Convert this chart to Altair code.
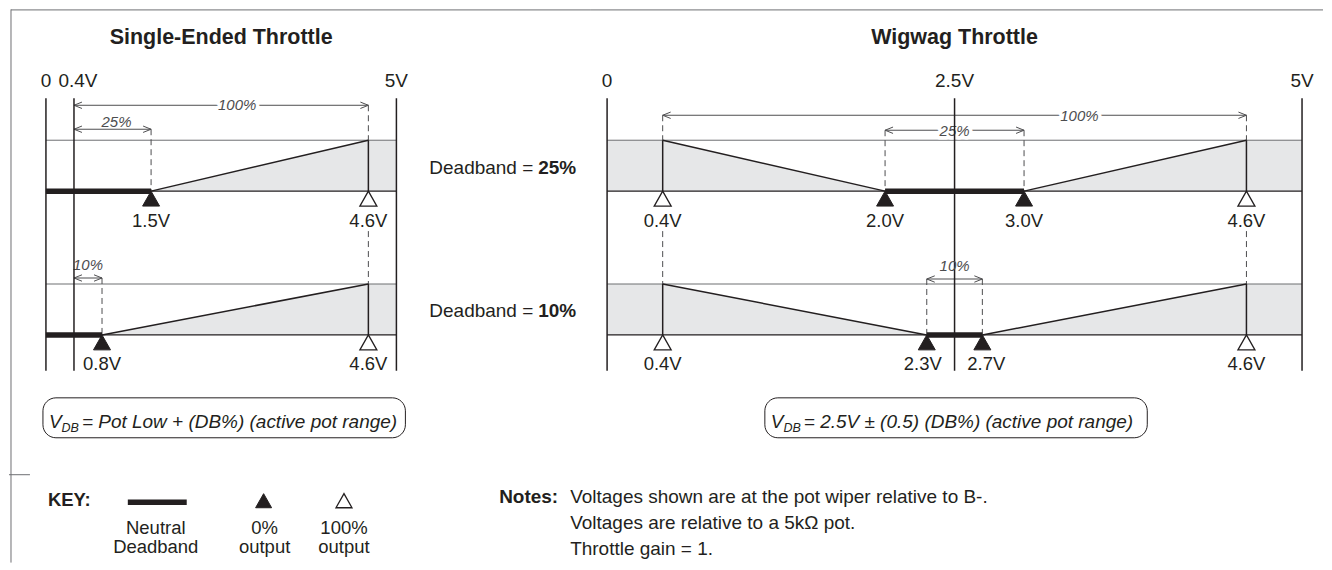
import altair as alt
import pandas as pd

# ------------------------------------------------------------------ data
SE_TICK_V = [0.0, 0.4, 5.0]
SE_TICK_TEXT = ["0", "0.4V", "5V"]
WW_TICK_V = [0.0, 2.5, 5.0]
WW_TICK_TEXT = ["0", "2.5V", "5V"]

RAIL_V = [0.0, 5.0]
POT_LOW_V = 0.4
POT_HIGH_V = 4.6
POT_LOW_TEXT = "0.4V"
POT_HIGH_TEXT = "4.6V"

DEADBAND_TEXT = ["25%", "10%"]
FULL_RANGE_TEXT = "100%"

SE_ZERO_V = [1.5, 0.8]
SE_ZERO_TEXT = ["1.5V", "0.8V"]

WW_ZERO_LO_V = [2.0, 2.3]
WW_ZERO_HI_V = [3.0, 2.7]
WW_ZERO_LO_TEXT = ["2.0V", "2.3V"]
WW_ZERO_HI_TEXT = ["3.0V", "2.7V"]

TITLES = ["Single-Ended Throttle", "Wigwag Throttle"]
FORMULA_TAIL = ["= Pot Low + (DB%) (active pot range)",
                "= 2.5V \u00b1 (0.5) (DB%) (active pot range)"]
KEY_HEAD = "KEY:"
KEY_LABELS = [["Neutral", "Deadband"], ["0%", "output"], ["100%", "output"]]
NOTES_HEAD = "Notes:"
NOTES = ["Voltages shown are at the pot wiper relative to B-.",
         "Voltages are relative to a 5k\u03a9 pot.",
         "Throttle gain = 1."]

# ------------------------------------------------------------------ layout / style
FONT = "Liberation Sans, Arial, Helvetica, sans-serif"
INK = "#231f20"
GREY_LINE = "#6d6e71"
DIM = "#4d4d4f"
FILL = "#e6e7e8"

H = 554
W_LEFT, W_RIGHT = 582, 734
PX_PER_V = [70.2, 139.2]
ZERO_PX = [37, 17]
DOMAINS = [[-ZERO_PX[0] / PX_PER_V[0], (W_LEFT - ZERO_PX[0]) / PX_PER_V[0]],
           [-ZERO_PX[1] / PX_PER_V[1], (W_RIGHT - ZERO_PX[1]) / PX_PER_V[1]]]

TITLE_Y = 29
TICK_LABEL_Y = 71.5
RAIL_TOP, RAIL_BOT = 89, 362
BAND_TOP = [131, 275]
BAND_BOT = [182, 326]
VALUE_ROW = [212, 355]
GAP_DASH_TOP = 222
SE_FULL_Y = 96
SE_DB_Y = [120, 269]
WW_FULL_Y = 106
WW_DB_Y = [121, 270]

TRI = "M0,0L-1,1.76L1,1.76Z"
HEAD_L = "M1,-0.4L0,0L1,0.4"
HEAD_R = "M-1,-0.4L0,0L-1,0.4"

YS = alt.Scale(domain=[0, H], reverse=True, nice=False, zero=False)
ONE = pd.DataFrame({"k": [0]})


def xscale(i):
    return alt.Scale(domain=DOMAINS[i], nice=False, zero=False)


def enc_xy(xs):
    return dict(x=alt.X("x:Q", scale=xs, axis=None),
                y=alt.Y("y:Q", scale=YS, axis=None))


def seg_layer(rows, xs, color, width, dash=None):
    df = pd.DataFrame(rows, columns=["x", "x2", "y", "y2"])
    props = dict(color=color, strokeWidth=width, strokeCap="butt")
    if dash is not None:
        props["strokeDash"] = dash
    return alt.Chart(df).mark_rule(**props).encode(**enc_xy(xs), x2="x2:Q", y2="y2:Q")


def text_layer(rows, xs, **props):
    df = pd.DataFrame(rows, columns=["x", "y", "t"])
    base = dict(font=FONT, fontSize=18.5, color=INK, align="center", baseline="middle")
    base.update(props)
    return alt.Chart(df).mark_text(**base).encode(**enc_xy(xs), text="t:N")


def point_layer(rows, xs, shape, size, **props):
    df = pd.DataFrame(rows, columns=["x", "y"])
    return alt.Chart(df).mark_point(shape=shape, size=size, opacity=1, **props).encode(**enc_xy(xs))


def fixed_text(x, y, t, **props):
    base = dict(font=FONT, fontSize=19, color=INK, align="left", baseline="middle", text=t)
    base.update(props)
    return alt.Chart(ONE).mark_text(**base).encode(x=alt.value(x), y=alt.value(y))


def fixed_rule(x, x2, y, y2, color=INK, width=1.0):
    return alt.Chart(ONE).mark_rule(color=color, strokeWidth=width, strokeCap="butt").encode(
        x=alt.value(x), x2=alt.value(x2), y=alt.value(y), y2=alt.value(y2))


def fixed_point(x, y, shape, size, **props):
    return alt.Chart(ONE).mark_point(shape=shape, size=size, opacity=1, **props).encode(
        x=alt.value(x), y=alt.value(y))


def formula(x0, x1, tail):
    box = alt.Chart(ONE).mark_rect(fill="white", stroke=INK, strokeWidth=1, cornerRadius=13).encode(
        x=alt.value(x0), x2=alt.value(x1), y=alt.value(389), y2=alt.value(429))
    v = fixed_text(x0 + 6, 419, "V", fontStyle="italic", baseline="alphabetic")
    sub = fixed_text(x0 + 18.7, 423, "DB", fontStyle="italic", fontSize=12.5, baseline="alphabetic")
    rest = fixed_text(x0 + 39, 419, tail, fontStyle="italic", baseline="alphabetic")
    return [box, v, sub, rest]


def dim_labels(rows, xs, halo, dx=0):
    out = []
    props = dict(fontSize=15, fontStyle="italic", dx=dx)
    if halo:
        out.append(text_layer(rows, xs, color="white", stroke="white", strokeWidth=7,
                              strokeJoin="round", **props))
    out.append(text_layer(rows, xs, color=DIM, **props))
    return out


# ------------------------------------------------------------------ single-ended panel
def single_ended():
    xs = xscale(0)
    L = []
    arows = []
    for i, z in enumerate(SE_ZERO_V):
        for xv, yv in [(z, BAND_BOT[i]), (POT_HIGH_V, BAND_TOP[i]), (RAIL_V[1], BAND_TOP[i])]:
            arows.append((i, xv, yv, BAND_BOT[i]))
    adf = pd.DataFrame(arows, columns=["band", "x", "y", "y2"])
    L.append(alt.Chart(adf).mark_area(color=FILL, opacity=1).encode(
        **enc_xy(xs), y2="y2:Q", detail="band:N"))
    L.append(seg_layer([(RAIL_V[0], RAIL_V[1], BAND_TOP[i], BAND_TOP[i]) for i in range(2)], xs, GREY_LINE, 1))
    L.append(seg_layer([(RAIL_V[0], RAIL_V[1], BAND_BOT[i], BAND_BOT[i]) for i in range(2)], xs, INK, 1.2))

    dashes = [(z, z, SE_DB_Y[i], BAND_BOT[i]) for i, z in enumerate(SE_ZERO_V)]
    dashes += [(POT_HIGH_V, POT_HIGH_V, SE_FULL_Y, BAND_TOP[0]),
               (POT_HIGH_V, POT_HIGH_V, GAP_DASH_TOP, BAND_TOP[1])]
    L.append(seg_layer(dashes, xs, DIM, 1, dash=[6, 4]))

    arrows = [(POT_LOW_V, POT_HIGH_V, SE_FULL_Y)] + \
             [(POT_LOW_V, z, SE_DB_Y[i]) for i, z in enumerate(SE_ZERO_V)]
    L.append(seg_layer([(a, b, y, y) for a, b, y in arrows], xs, DIM, 1))
    L.append(point_layer([(a, y) for a, b, y in arrows], xs, HEAD_L, 256, filled=False, color=DIM, strokeWidth=1))
    L.append(point_layer([(b, y) for a, b, y in arrows], xs, HEAD_R, 256, filled=False, color=DIM, strokeWidth=1))

    mid = (POT_LOW_V + POT_HIGH_V) / 2
    L += dim_labels([(mid, SE_FULL_Y, FULL_RANGE_TEXT)], xs, True, dx=16)
    L += dim_labels([((POT_LOW_V + SE_ZERO_V[0]) / 2, SE_DB_Y[0] - 7, DEADBAND_TEXT[0])], xs, False, dx=4)
    L += dim_labels([((POT_LOW_V + SE_ZERO_V[1]) / 2, SE_DB_Y[1] - 13, DEADBAND_TEXT[1])], xs, False)

    rails = [(v, v, RAIL_TOP, RAIL_BOT) for v in SE_TICK_V]
    edges = [(POT_HIGH_V, POT_HIGH_V, BAND_TOP[i], BAND_BOT[i]) for i in range(2)]
    slants = [(z, POT_HIGH_V, BAND_BOT[i], BAND_TOP[i]) for i, z in enumerate(SE_ZERO_V)]
    L.append(seg_layer(rails + edges + slants, xs, INK, 1.5))
    L.append(seg_layer([(RAIL_V[0], z, BAND_BOT[i], BAND_BOT[i]) for i, z in enumerate(SE_ZERO_V)], xs, INK, 5.5))

    L.append(point_layer([(z, BAND_BOT[i]) for i, z in enumerate(SE_ZERO_V)], xs, TRI, 289,
                         filled=True, fill=INK, stroke=INK, strokeWidth=1))
    L.append(point_layer([(POT_HIGH_V, BAND_BOT[i]) for i in range(2)], xs, TRI, 289,
                         filled=True, fill="white", stroke=INK, strokeWidth=1.3))

    vals = [(z, VALUE_ROW[i], SE_ZERO_TEXT[i]) for i, z in enumerate(SE_ZERO_V)]
    vals += [(POT_HIGH_V, VALUE_ROW[i], POT_HIGH_TEXT) for i in range(2)]
    L.append(text_layer(vals, xs))

    L.append(text_layer([(SE_TICK_V[0], TICK_LABEL_Y, SE_TICK_TEXT[0]),
                         (SE_TICK_V[2], TICK_LABEL_Y, SE_TICK_TEXT[2])], xs, fontSize=19))
    L.append(text_layer([(SE_TICK_V[1], TICK_LABEL_Y, SE_TICK_TEXT[1])], xs, fontSize=19, dx=4))
    L.append(text_layer([((RAIL_V[0] + RAIL_V[1]) / 2, TITLE_Y, TITLES[0])], xs,
                        fontSize=21.5, fontWeight="bold"))

    # deadband captions (between panels)
    for i, yv in enumerate([159, 302]):
        L.append(fixed_text(421, yv, "Deadband = "))
        L.append(fixed_text(530, yv, DEADBAND_TEXT[i], fontWeight="bold"))

    L += formula(34, 397, FORMULA_TAIL[0])

    # key
    L.append(fixed_text(39, 491, KEY_HEAD, fontWeight="bold", fontSize=18.5))
    L.append(fixed_rule(119, 178, 493.5, 493.5, width=5.5))
    L.append(fixed_point(255, 485, TRI, 256, filled=True, fill=INK, stroke=INK, strokeWidth=1))
    L.append(fixed_point(335.5, 485, TRI, 256, filled=True, fill="white", stroke=INK, strokeWidth=1.3))
    for cx, (a, b) in zip([147, 256, 335.5], KEY_LABELS):
        L.append(fixed_text(cx, 519.5, a, align="center", fontSize=18.5))
        L.append(fixed_text(cx, 538.5, b, align="center", fontSize=18.5))

    # notes
    L.append(fixed_text(550, 488, NOTES_HEAD, fontWeight="bold", align="right"))
    for j, line in enumerate(NOTES):
        L.append(fixed_text(562, 488 + 26 * j, line))

    # frame
    L.append(fixed_rule(2, W_LEFT, 0.5, 0.5, color=GREY_LINE, width=1))
    L.append(fixed_rule(2, 2, 0, H, color=GREY_LINE, width=1))
    L.append(fixed_rule(0, 21, 466, 466, color=GREY_LINE, width=1))

    return alt.layer(*L).properties(width=W_LEFT, height=H)


# ------------------------------------------------------------------ wigwag panel
def wigwag():
    xs = xscale(1)
    L = []
    arows = []
    for i in range(2):
        lo, hi = WW_ZERO_LO_V[i], WW_ZERO_HI_V[i]
        for xv, yv in [(RAIL_V[0], BAND_TOP[i]), (POT_LOW_V, BAND_TOP[i]), (lo, BAND_BOT[i]),
                       (hi, BAND_BOT[i]), (POT_HIGH_V, BAND_TOP[i]), (RAIL_V[1], BAND_TOP[i])]:
            arows.append((i, xv, yv, BAND_BOT[i]))
    adf = pd.DataFrame(arows, columns=["band", "x", "y", "y2"])
    L.append(alt.Chart(adf).mark_area(color=FILL, opacity=1).encode(
        **enc_xy(xs), y2="y2:Q", detail="band:N"))
    L.append(seg_layer([(RAIL_V[0], RAIL_V[1], BAND_TOP[i], BAND_TOP[i]) for i in range(2)], xs, GREY_LINE, 1))
    L.append(seg_layer([(RAIL_V[0], RAIL_V[1], BAND_BOT[i], BAND_BOT[i]) for i in range(2)], xs, INK, 1.2))

    dashes = []
    for i in range(2):
        dashes += [(WW_ZERO_LO_V[i], WW_ZERO_LO_V[i], WW_DB_Y[i], BAND_BOT[i]),
                   (WW_ZERO_HI_V[i], WW_ZERO_HI_V[i], WW_DB_Y[i], BAND_BOT[i])]
    for v in [POT_LOW_V, POT_HIGH_V]:
        dashes += [(v, v, WW_FULL_Y, BAND_TOP[0]), (v, v, GAP_DASH_TOP, BAND_TOP[1])]
    L.append(seg_layer(dashes, xs, DIM, 1, dash=[6, 4]))

    arrows = [(POT_LOW_V, POT_HIGH_V, WW_FULL_Y)] + \
             [(WW_ZERO_LO_V[i], WW_ZERO_HI_V[i], WW_DB_Y[i]) for i in range(2)]
    L.append(seg_layer([(a, b, y, y) for a, b, y in arrows], xs, DIM, 1))
    L.append(point_layer([(a, y) for a, b, y in arrows], xs, HEAD_L, 256, filled=False, color=DIM, strokeWidth=1))
    L.append(point_layer([(b, y) for a, b, y in arrows], xs, HEAD_R, 256, filled=False, color=DIM, strokeWidth=1))

    mid = (POT_LOW_V + POT_HIGH_V) / 2
    L += dim_labels([(mid, WW_FULL_Y + 1, FULL_RANGE_TEXT)], xs, True, dx=125)
    L += dim_labels([((WW_ZERO_LO_V[0] + WW_ZERO_HI_V[0]) / 2, WW_DB_Y[0] + 1, DEADBAND_TEXT[0])], xs, True)

    rails = [(v, v, RAIL_TOP, RAIL_BOT) for v in WW_TICK_V]
    edges = [(v, v, BAND_TOP[i], BAND_BOT[i]) for v in [POT_LOW_V, POT_HIGH_V] for i in range(2)]
    slants = []
    for i in range(2):
        slants += [(POT_LOW_V, WW_ZERO_LO_V[i], BAND_TOP[i], BAND_BOT[i]),
                   (WW_ZERO_HI_V[i], POT_HIGH_V, BAND_BOT[i], BAND_TOP[i])]
    L.append(seg_layer(rails + edges + slants, xs, INK, 1.5))
    L += dim_labels([((WW_ZERO_LO_V[1] + WW_ZERO_HI_V[1]) / 2, WW_DB_Y[1] - 13, DEADBAND_TEXT[1])], xs, False)
    L.append(seg_layer([(WW_ZERO_LO_V[i], WW_ZERO_HI_V[i], BAND_BOT[i], BAND_BOT[i]) for i in range(2)],
                       xs, INK, 5.5))

    L.append(point_layer([(v[i], BAND_BOT[i]) for v in [WW_ZERO_LO_V, WW_ZERO_HI_V] for i in range(2)],
                         xs, TRI, 289, filled=True, fill=INK, stroke=INK, strokeWidth=1))
    L.append(point_layer([(v, BAND_BOT[i]) for v in [POT_LOW_V, POT_HIGH_V] for i in range(2)],
                         xs, TRI, 289, filled=True, fill="white", stroke=INK, strokeWidth=1.3))

    vals = [(POT_LOW_V, VALUE_ROW[i], POT_LOW_TEXT) for i in range(2)]
    vals += [(POT_HIGH_V, VALUE_ROW[i], POT_HIGH_TEXT) for i in range(2)]
    vals += [(WW_ZERO_LO_V[0], VALUE_ROW[0], WW_ZERO_LO_TEXT[0]),
             (WW_ZERO_HI_V[0], VALUE_ROW[0], WW_ZERO_HI_TEXT[0])]
    L.append(text_layer(vals, xs))
    L.append(text_layer([(WW_ZERO_LO_V[1], VALUE_ROW[1], WW_ZERO_LO_TEXT[1])], xs, dx=-4))
    L.append(text_layer([(WW_ZERO_HI_V[1], VALUE_ROW[1], WW_ZERO_HI_TEXT[1])], xs, dx=4))

    L.append(text_layer([(v, TICK_LABEL_Y, t) for v, t in zip(WW_TICK_V, WW_TICK_TEXT)], xs, fontSize=19))
    L.append(text_layer([((RAIL_V[0] + RAIL_V[1]) / 2, TITLE_Y, TITLES[1])], xs,
                        fontSize=21.5, fontWeight="bold"))

    L += formula(175, 558, FORMULA_TAIL[1])
    L.append(fixed_rule(0, W_RIGHT, 0.5, 0.5, color=GREY_LINE, width=1))
    return alt.layer(*L).properties(width=W_RIGHT, height=H)


chart = alt.hconcat(single_ended(), wigwag(), spacing=0, bounds="flush").properties(
    padding=0
).configure_view(stroke=None)

chart.save("out.html", embed_options={"renderer": "svg", "actions": False})
